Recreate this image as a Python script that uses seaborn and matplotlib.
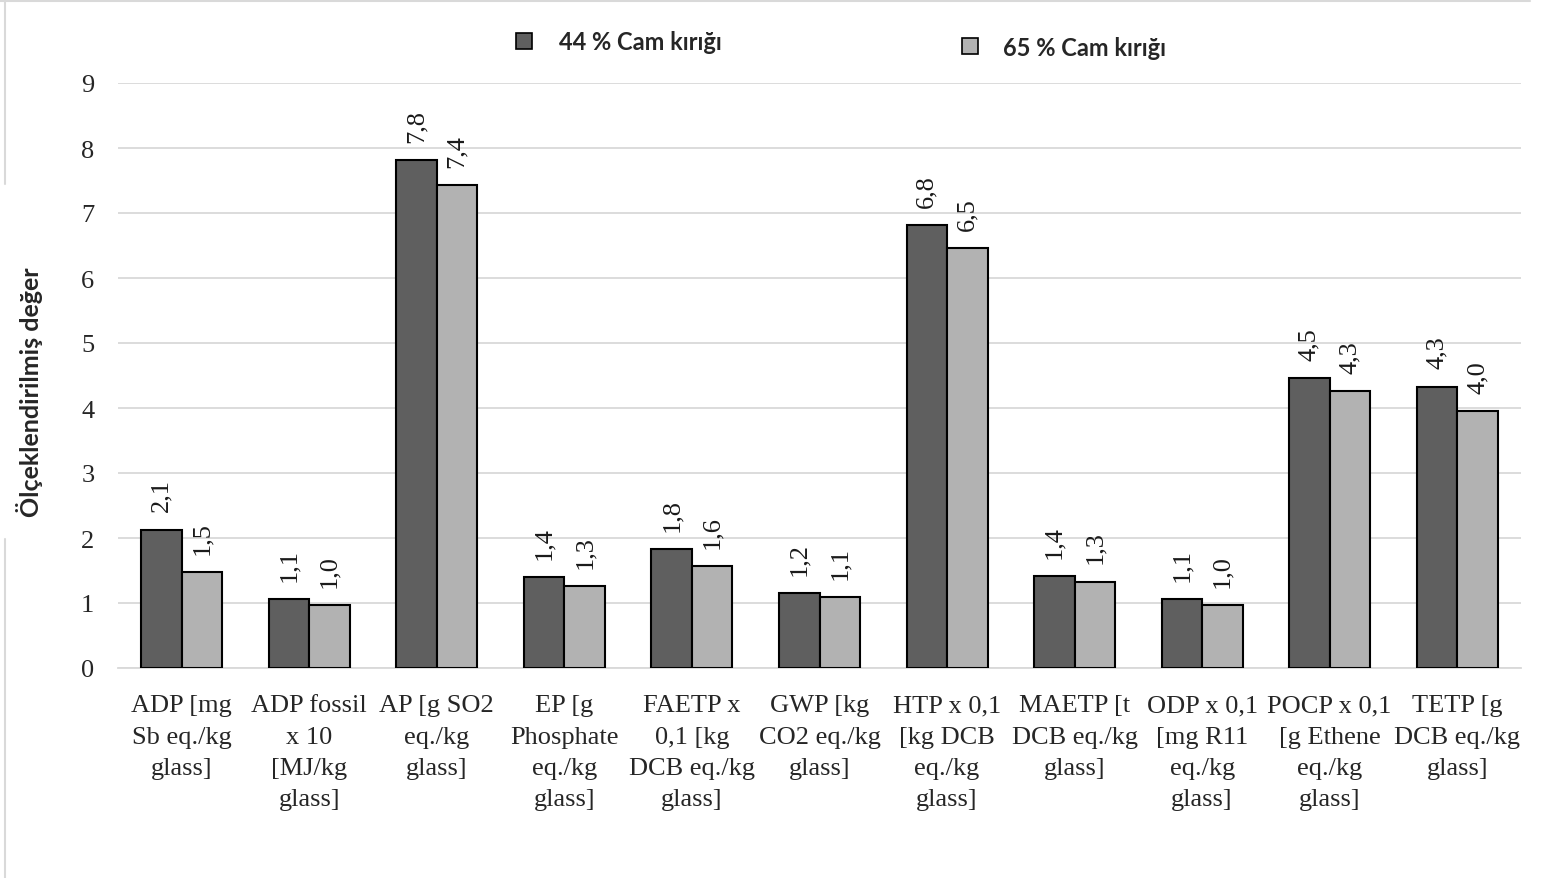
import matplotlib
matplotlib.use("Agg")
import matplotlib.pyplot as plt
from matplotlib.patches import Patch
from matplotlib.lines import Line2D
import seaborn as sns
import pandas as pd

categories = [
    "ADP [mg\nSb eq./kg\nglass]",
    "ADP fossil\nx 10\n[MJ/kg\nglass]",
    "AP [g SO2\neq./kg\nglass]",
    "EP [g\nPhosphate\neq./kg\nglass]",
    "FAETP x\n0,1 [kg\nDCB eq./kg\nglass]",
    "GWP [kg\nCO2 eq./kg\nglass]",
    "HTP x 0,1\n[kg DCB\neq./kg\nglass]",
    "MAETP [t\nDCB eq./kg\nglass]",
    "ODP x 0,1\n[mg R11\neq./kg\nglass]",
    "POCP x 0,1\n[g Ethene\neq./kg\nglass]",
    "TETP [g\nDCB eq./kg\nglass]",
]
series_names = ["44 % Cam kırığı", "65 % Cam kırığı"]
values_44 = [2.13, 1.06, 7.82, 1.40, 1.83, 1.16, 6.81, 1.41, 1.06, 4.46, 4.33]
values_65 = [1.48, 0.97, 7.43, 1.26, 1.57, 1.09, 6.46, 1.33, 0.97, 4.26, 3.96]
y_ticks = [0, 1, 2, 3, 4, 5, 6, 7, 8, 9]

df = pd.DataFrame({
    "cat": categories * 2,
    "val": values_44 + values_65,
    "series": [series_names[0]] * len(categories) + [series_names[1]] * len(categories),
})

sns.set_theme(style="white")
plt.rcParams["font.family"] = ["Liberation Serif", "DejaVu Serif"]

W, H = 1541, 879
fig = plt.figure(figsize=(W / 100, H / 100), dpi=100)
ax = fig.add_axes([118 / W, (H - 669) / H, (1521 - 118) / W, (669 - 84) / H])

colors = ["#5f5f5f", "#b2b2b2"]
sns.barplot(data=df, x="cat", y="val", hue="series", palette=colors,
            edgecolor="black", linewidth=1.5, width=0.635, ax=ax,
            legend=False, zorder=3)

ax.set_ylim(0, 9)
ax.set_xlim(-0.5, len(categories) - 0.5)
ax.set_yticks(y_ticks)
ax.set_yticklabels([str(t) for t in y_ticks], fontsize=19)
ax.tick_params(axis="y", length=0, pad=17)
ax.tick_params(axis="x", length=0, pad=19, labelsize=19)
for lab in ax.get_xticklabels():
    lab.set_linespacing(1.55)
ax.set_xlabel("")
ax.set_ylabel("")
ax.yaxis.grid(True, color="#d9d9d9", linewidth=1.3, zorder=0)
ax.set_axisbelow(True)
for s in ["top", "right", "left"]:
    ax.spines[s].set_visible(False)
ax.spines["bottom"].set_color("#d9d9d9")
ax.spines["bottom"].set_linewidth(1.3)

for cont, vals in zip(ax.containers, [values_44, values_65]):
    labs = [f"{v:.1f}".replace(".", ",") for v in vals]
    ax.bar_label(cont, labels=labs, rotation=90, padding=13, fontsize=19,
                 color="#1a1a1a")

# Y label
fig.text(30 / W, (H - 392) / H, "Ölçeklendirilmiş değer", rotation=90,
         ha="center", va="center", fontsize=18, fontweight="bold",
         family=["Lato", "DejaVu Sans"])

# Legend (two entries placed as in the original)
lprop = {"family": ["Lato", "DejaVu Sans"], "weight": "bold", "size": 17}
h1 = Patch(facecolor=colors[0], edgecolor="black", linewidth=1.2)
h2 = Patch(facecolor=colors[1], edgecolor="black", linewidth=1.2)
fig.legend([h1], [series_names[0]], loc="center left",
           bbox_to_anchor=(516 / W, (H - 43) / H), frameon=False,
           borderpad=0, borderaxespad=0, handlelength=0.68, handleheight=0.68,
           handletextpad=1.15, prop=lprop)
fig.legend([h2], [series_names[1]], loc="center left",
           bbox_to_anchor=(962 / W, (H - 48) / H), frameon=False,
           borderpad=0, borderaxespad=0, handlelength=0.68, handleheight=0.68,
           handletextpad=1.05, prop=lprop)

# Chart border
border = "#d9d9d9"
fig.add_artist(Line2D([0, 1530 / W], [1 - 2 / H, 1 - 2 / H], color=border, lw=1.5))
fig.add_artist(Line2D([5 / W, 5 / W], [1, 1 - 185 / H], color=border, lw=1.5))
fig.add_artist(Line2D([5 / W, 5 / W], [1 - 540 / H, 0], color=border, lw=1.5))

fig.savefig("out.png", dpi=100, facecolor="white")
